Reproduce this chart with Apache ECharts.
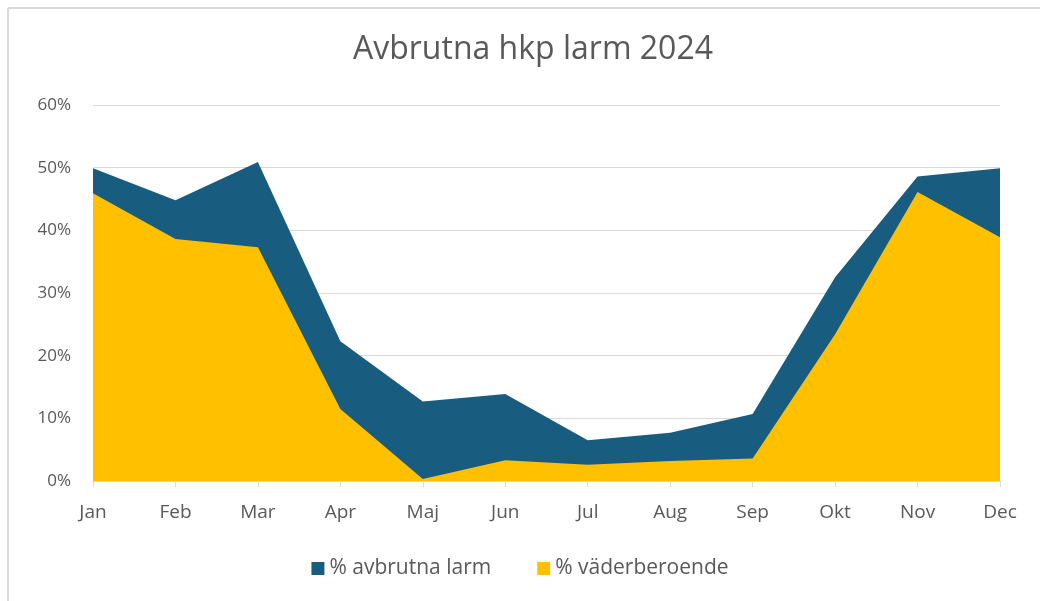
<!DOCTYPE html>
<html>
<head>
<meta charset="utf-8">
<script src="https://cdn.jsdelivr.net/npm/echarts@6/dist/echarts.min.js"></script>
<style>
html,body{margin:0;padding:0;background:#fff;}
#main{width:1040px;height:601px;}
</style>
</head>
<body>
<div id="main"></div>
<script>
const categories = ['Jan','Feb','Mar','Apr','Maj','Jun','Jul','Aug','Sep','Okt','Nov','Dec'];
const avbrutnaLarm = [49.9, 44.8, 50.9, 22.3, 12.7, 13.9, 6.5, 7.7, 10.7, 32.5, 48.6, 49.9];
const vaderberoende = [45.9, 38.6, 37.3, 11.5, 0.3, 3.3, 2.6, 3.2, 3.6, 23.4, 46.1, 38.9];
const seriesNames = ['% avbrutna larm', '% väderberoende'];
const titleText = 'Avbrutna hkp larm 2024';

const chart = echarts.init(document.getElementById('main'), null, {renderer:'canvas'});
const font = '"Open Sans", Roboto, sans-serif';
chart.setOption({
  animation: false,
  backgroundColor: '#fff',
  graphic: [
    {type:'line', shape:{x1:8, y1:8, x2:1040, y2:8}, style:{stroke:'#d9d9d9', lineWidth:2}},
    {type:'line', shape:{x1:8, y1:8, x2:8, y2:601}, style:{stroke:'#d9d9d9', lineWidth:2}}
  ],
  title: {
    text: titleText,
    left: 528, top: 29, textAlign: 'center',
    textStyle: {fontFamily: font, fontSize: 32, fontWeight: 'normal', color: '#595959'}
  },
  legend: {
    data: seriesNames,
    left: 'center', top: 553,
    itemWidth: 13, itemHeight: 13, itemGap: 46,
    icon: 'rect',
    textStyle: {fontFamily: font, fontSize: 21, color: '#595959'}
  },
  grid: {left: 93, right: 40, top: 105, bottom: 120, containLabel: false},
  xAxis: {
    type: 'category', data: categories, boundaryGap: false,
    axisLine: {lineStyle: {color: '#d9d9d9', width: 1}},
    axisTick: {show: true, length: 6, lineStyle: {color: '#d9d9d9'}},
    axisLabel: {fontFamily: font, fontSize: 19, color: '#595959', margin: 22}
  },
  yAxis: {
    type: 'value', min: 0, max: 60, interval: 10,
    axisLine: {show: false}, axisTick: {show: false},
    splitLine: {lineStyle: {color: '#d9d9d9', width: 1}},
    axisLabel: {fontFamily: font, fontSize: 17, color: '#595959', margin: 22, formatter: v => v + '%'}
  },
  series: [
    {name: seriesNames[0], type: 'line', data: avbrutnaLarm, symbol: 'none',
     lineStyle: {width: 0}, itemStyle: {color: '#185d7f'}, areaStyle: {color: '#185d7f', opacity: 1}, z: 2},
    {name: seriesNames[1], type: 'line', data: vaderberoende, symbol: 'none',
     lineStyle: {width: 0}, itemStyle: {color: '#ffc000'}, areaStyle: {color: '#ffc000', opacity: 1}, z: 3}
  ]
});
</script>
</body>
</html>
